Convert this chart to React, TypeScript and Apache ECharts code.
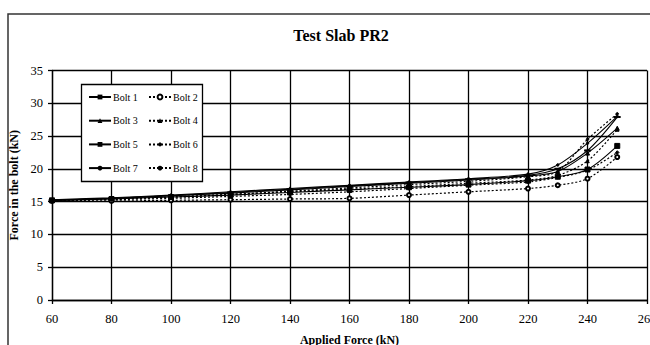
import React, { useEffect, useRef } from "react";
import * as echarts from "echarts";

const appliedForce = [60, 80, 100, 120, 140, 160, 180, 200, 220, 230, 240, 250];
const bolt1 = [15.2, 15.4, 15.7, 16.0, 16.4, 16.8, 17.2, 17.6, 18.2, 18.8, 19.9, 23.5];
const bolt2 = [15.1, 15.1, 15.2, 15.3, 15.4, 15.5, 16.0, 16.5, 17.0, 17.5, 18.5, 21.8];
const bolt3 = [15.2, 15.5, 15.9, 16.3, 16.8, 17.3, 17.8, 18.3, 18.9, 19.6, 22.4, 26.2];
const bolt4 = [15.2, 15.4, 15.7, 16.1, 16.5, 16.9, 17.3, 17.8, 18.3, 19.0, 21.2, 26.0];
const bolt5 = [15.2, 15.5, 15.9, 16.4, 16.9, 17.4, 17.9, 18.4, 19.0, 20.0, 22.8, 27.9];
const bolt6 = [15.1, 15.3, 15.5, 15.8, 16.1, 16.5, 17.0, 17.5, 18.0, 18.7, 19.8, 22.5];
const bolt7 = [15.3, 15.6, 16.0, 16.5, 17.0, 17.5, 18.0, 18.5, 19.2, 20.6, 23.9, 28.0];
const bolt8 = [15.2, 15.4, 15.7, 16.1, 16.6, 17.1, 17.6, 18.1, 18.8, 19.6, 24.5, 28.4];

const boltNames = ["Bolt 1", "Bolt 2", "Bolt 3", "Bolt 4", "Bolt 5", "Bolt 6", "Bolt 7", "Bolt 8"];
const boltValues = [bolt1, bolt2, bolt3, bolt4, bolt5, bolt6, bolt7, bolt8];
const boltSymbols: any[] = ["rect", "emptyCircle", "triangle", "triangle", "rect", "diamond", "circle", "circle"];
const boltSymbolSizes: any[] = [5, 4, 4, 3.5, [5, 1.5], 3.5, 2.5, 2.5];

const FONT = "'Liberation Serif', 'DejaVu Serif', serif";

export default function App() {
  const ref = useRef<HTMLDivElement>(null);
  useEffect(() => {
    if (!ref.current) return;
    const chart = echarts.init(ref.current, null, { renderer: "svg" });
    const series = boltNames.map((name, i) => {
      const dotted = i % 2 === 1;
      return {
        name,
        type: "line",
        smooth: 0.3,
        z: 2,
        data: appliedForce.map((x, j) => [x, boltValues[i][j]]),
        symbol: boltSymbols[i],
        symbolSize: boltSymbolSizes[i],
        lineStyle: { color: "#000", width: dotted ? 1.2 : 1.1, type: dotted ? [2, 2] : "solid" },
        itemStyle: { color: "#000", borderColor: "#000" },
      };
    });
    const legendCommon = {
      orient: "vertical",
      top: 92,
      padding: 0,
      itemGap: 13.7,
      itemWidth: 22,
      itemHeight: 6,
      z: 5,
      textStyle: { fontFamily: FONT, fontSize: 10, color: "#000", lineHeight: 10, padding: [0, 0, 0, -3] },
    };
    chart.setOption({
      animation: false,
      backgroundColor: "#fff",
      title: {
        text: "Test Slab PR2",
        left: 336,
        top: 22,
        textAlign: "center",
        textStyle: { fontFamily: FONT, fontSize: 16, fontWeight: "bold", color: "#000" },
      },
      legend: [
        { ...legendCommon, left: 88, data: ["Bolt 1", "Bolt 3", "Bolt 5", "Bolt 7"] },
        { ...legendCommon, left: 148, data: ["Bolt 2", "Bolt 4", "Bolt 6", "Bolt 8"] },
      ],
      graphic: [
        {
          type: "rect",
          z: 0,
          silent: true,
          shape: { x: 8, y: 14, width: 700, height: 400 },
          style: { fill: "none", stroke: "#333", lineWidth: 1.5 },
        },
        {
          type: "rect",
          z: 4,
          silent: true,
          shape: { x: 81.5, y: 84.5, width: 121, height: 97 },
          style: { fill: "#fff", stroke: "#000", lineWidth: 1.3 },
        },
      ],
      grid: { left: 52, right: 3, top: 70.5, bottom: 45, containLabel: false, outerBoundsMode: "none" },
      xAxis: {
        type: "value",
        min: 60,
        max: 260,
        interval: 20,
        name: "Applied Force (kN)",
        nameLocation: "middle",
        nameGap: 34,
        nameTextStyle: { fontFamily: FONT, fontSize: 12, fontWeight: "bold", color: "#000" },
        axisLine: { lineStyle: { color: "#000", width: 1.3 } },
        axisTick: { show: true, length: 4, lineStyle: { color: "#000", width: 1.3 } },
        axisLabel: { fontFamily: FONT, fontSize: 12.5, color: "#000", margin: 12 },
        splitLine: { show: true, lineStyle: { color: "#000", width: 1.3 } },
      },
      yAxis: {
        type: "value",
        min: 0,
        max: 35,
        interval: 5,
        name: "Force in the bolt (kN)",
        nameLocation: "middle",
        nameGap: 27,
        nameTextStyle: { fontFamily: FONT, fontSize: 12, fontWeight: "bold", color: "#000" },
        axisLine: { lineStyle: { color: "#000", width: 1.3 } },
        axisTick: { show: true, length: 4, lineStyle: { color: "#000", width: 1.3 } },
        axisLabel: { fontFamily: FONT, fontSize: 12.5, color: "#000", margin: 9 },
        splitLine: { show: true, lineStyle: { color: "#000", width: 1.3 } },
      },
      series,
    });
    return () => chart.dispose();
  }, []);
  return (
    <div
      ref={ref}
      style={{ position: "fixed", left: 0, top: 0, width: 650, height: 345, overflow: "hidden", background: "#fff" }}
    />
  );
}
